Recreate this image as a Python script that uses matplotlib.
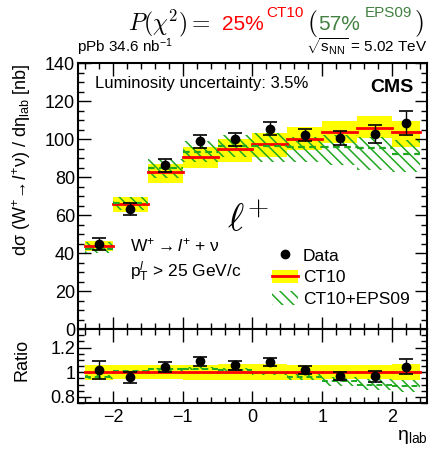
import numpy as np
import matplotlib
matplotlib.use('Agg')
import matplotlib.pyplot as plt
from matplotlib.lines import Line2D
from matplotlib.patches import Patch
from matplotlib.ticker import MultipleLocator

plt.rcParams['font.family'] = ['Liberation Sans', 'DejaVu Sans']
plt.rcParams['mathtext.fontset'] = 'custom'
plt.rcParams['mathtext.rm'] = 'Liberation Sans'
plt.rcParams['mathtext.it'] = 'Liberation Sans:italic'
plt.rcParams['mathtext.bf'] = 'Liberation Sans:bold'
plt.rcParams['hatch.linewidth'] = 1.1

# eta_lab bins
bin_edges = [-2.4, -2.0, -1.5, -1.0, -0.5, 0.0, 0.5, 1.0, 1.5, 2.0, 2.4]
eta = [-2.2, -1.75, -1.25, -0.75, -0.25, 0.25, 0.75, 1.25, 1.75, 2.2]

# measured cross sections [nb]
data = [44.6, 63.2, 86.2, 98.8, 99.8, 105.3, 102.0, 100.4, 102.5, 108.2]
data_err = [3.2, 3.0, 3.5, 3.3, 3.4, 3.4, 3.2, 3.6, 4.7, 6.3]

# CT10 prediction
ct10 = [43.7, 66.0, 82.6, 90.7, 94.6, 97.2, 100.2, 103.5, 106.0, 103.7]
ct10_lo = [41.0, 61.7, 77.0, 85.0, 88.0, 90.7, 94.2, 97.7, 100.4, 96.0]
ct10_hi = [46.3, 69.3, 86.8, 96.0, 100.0, 103.0, 106.2, 109.5, 112.3, 109.6]

# CT10+EPS09 prediction
eps = [42.1, 66.5, 84.6, 93.3, 96.5, 96.3, 96.0, 95.8, 95.4, 92.1]
eps_lo = [40.2, 62.5, 79.3, 87.7, 90.7, 88.0, 88.0, 86.3, 83.7, 82.8]
eps_hi = [46.0, 69.6, 89.3, 99.1, 102.0, 103.0, 101.2, 102.0, 101.2, 99.5]
# EPS09 uncertainty shown in the ratio panel
eps_ratio_err = [0.015, 0.01, 0.012, 0.012, 0.012, 0.012, 0.025, 0.035, 0.045, 0.047]

YELLOW = '#ffff00'
RED = '#ff0000'
GREEN = '#1fa81f'
HATCH = '\\\\\\'

W, H = 431, 449
fig = plt.figure(figsize=(W / 100, H / 100), dpi=100)

def fx(px):
    return px / W

def fy(py):
    return 1 - py / H

ax = fig.add_axes([fx(78), fy(329), fx(427) - fx(78), fy(63) - fy(329)])
axr = fig.add_axes([fx(78), fy(403), fx(427) - fx(78), fy(329) - fy(403)], sharex=ax)

data = np.array(data)
data_err = np.array(data_err)
ct10 = np.array(ct10)
eps = np.array(eps)

for i in range(len(eta)):
    lo, hi = bin_edges[i], bin_edges[i + 1]
    ax.fill_between([lo, hi], ct10_lo[i], ct10_hi[i], color=YELLOW, lw=0, zorder=1)
    ax.fill_between([lo, hi], eps_lo[i], eps_hi[i], facecolor='none',
                    edgecolor=GREEN, hatch=HATCH, lw=0, zorder=2)
    ax.plot([lo, hi], [ct10[i], ct10[i]], color=RED, lw=2, zorder=3)
    ax.plot([lo, hi], [eps[i], eps[i]], color=GREEN, lw=1.6, ls=(0, (3, 2)), zorder=3)

    # ratio panel
    rel = (ct10_hi[i] - ct10_lo[i]) / 2 / ct10[i]
    axr.fill_between([lo, hi], 1 - rel, 1 + rel, color=YELLOW, lw=0, zorder=1)
    r = eps[i] / ct10[i]
    axr.fill_between([lo, hi], r - eps_ratio_err[i], r + eps_ratio_err[i], facecolor='none',
                     edgecolor=GREEN, hatch=HATCH, lw=0, zorder=2)
    axr.plot([lo, hi], [r, r], color=GREEN, lw=1.4, ls=(0, (3, 2)), zorder=3)
    axr.plot([lo, hi], [1, 1], color=RED, lw=2, zorder=3)

ax.errorbar(eta, data, yerr=data_err, fmt='o', color='black', ms=6,
            elinewidth=1, capsize=5, capthick=1.2, zorder=5)
axr.axhline(1, color='black', lw=0.8, zorder=2)
axr.errorbar(eta, data / ct10, yerr=data_err / ct10, fmt='o', color='black', ms=6,
             elinewidth=1, capsize=5, capthick=1.2, zorder=5)

ax.set_xlim(-2.5, 2.5)
ax.set_ylim(0, 140)
axr.set_ylim(0.75, 1.35)

for a in (ax, axr):
    a.tick_params(which='both', direction='in', top=True, right=True, labelsize=13, width=1)
    a.tick_params(which='major', length=9)
    a.tick_params(which='minor', length=4.5)
    a.xaxis.set_major_locator(MultipleLocator(1))
    a.xaxis.set_minor_locator(MultipleLocator(0.2))
    for s in a.spines.values():
        s.set_linewidth(1.5)
ax.yaxis.set_major_locator(MultipleLocator(20))
ax.yaxis.set_minor_locator(MultipleLocator(5))
axr.yaxis.set_major_locator(MultipleLocator(0.2))
axr.yaxis.set_minor_locator(MultipleLocator(0.05))
axr.set_yticks([0.8, 1.0, 1.2])
axr.set_yticklabels(['0.8', '1', '1.2'])
ax.tick_params(labelbottom=False, pad=2)
axr.tick_params(axis='x', pad=4)
axr.tick_params(axis='y', pad=2)
axr.set_xticks([-2, -1, 0, 1, 2])
axr.set_xticklabels(['\u22122', '\u22121', '0', '1', '2'])

# axis titles
fig.text(fx(22), fy(63),
         r'd$\mathrm{\sigma}$ (W$^{+}\!\rightarrow\!\mathit{l}^{+}\mathrm{\nu}$) / d$\mathrm{\eta}_{\rm lab}$ [nb]',
         rotation=90, ha='center', va='top', fontsize=13)
fig.text(fx(22), fy(360), 'Ratio', rotation=90, ha='center', va='center', fontsize=13)
fig.text(fx(428), fy(440), r'$\mathrm{\eta}_{\rm lab}$', ha='right', va='baseline', fontsize=14)

# header
fig.text(fx(128), fy(30), r'$P(\chi^2) =$', fontsize=17, math_fontfamily='cm', va='baseline')
fig.text(fx(222), fy(30), '25%', fontsize=15, color=RED, va='baseline')
fig.text(fx(266), fy(17), 'CT10', fontsize=11, color=RED, va='baseline')
fig.text(fx(307), fy(30), r'$($', fontsize=18.5, math_fontfamily='cm', va='baseline')
fig.text(fx(318), fy(30), '57%', fontsize=15, color='#408040', va='baseline')
fig.text(fx(365), fy(17), 'EPS09', fontsize=11, color='#408040', va='baseline')
fig.text(fx(414), fy(30), r'$)$', fontsize=18.5, math_fontfamily='cm', va='baseline')

fig.text(fx(77), fy(52), r'pPb 34.6 nb$^{\mathregular{-1}}$', fontsize=11, va='baseline')
fig.text(fx(427), fy(52), r'$\sqrt{\mathregular{s}_{\mathregular{NN}}}$ = 5.02 TeV',
         fontsize=11, ha='right', va='baseline')

fig.text(fx(95), fy(88), 'Luminosity uncertainty: 3.5%', fontsize=12, va='baseline')
fig.text(fx(414), fy(92), 'CMS', fontsize=14, fontweight='bold', ha='right', va='baseline')
fig.text(fx(248), fy(231), r'$\ell^{+}$', fontsize=28, math_fontfamily='cm',
         ha='center', va='baseline')

fig.text(fx(130), fy(251), r'W$^{+}\rightarrow\mathit{l}^{+}$ + $\mathrm{\nu}$', fontsize=12.5, va='baseline')
fig.text(fx(130), fy(277), r'p$_{\mathregular{T}}^{\mathit{l}}$ > 25 GeV/c', fontsize=12.5, va='baseline')

handles = [
    Line2D([], [], marker='o', color='black', ls='none', ms=6),
    (Patch(facecolor=YELLOW, lw=0), Line2D([], [], color=RED, lw=2)),
    Patch(facecolor='none', edgecolor=GREEN, hatch=HATCH, lw=0),
]
ax.legend(handles, ['Data', 'CT10', 'CT10+EPS09'], loc='upper left',
          bbox_to_anchor=(0.555, 0.305), frameon=False, fontsize=12.5,
          handlelength=1.5, handleheight=0.8, handletextpad=0.3,
          labelspacing=0.35, borderpad=0, borderaxespad=0)

fig.savefig('out.png', dpi=100)
